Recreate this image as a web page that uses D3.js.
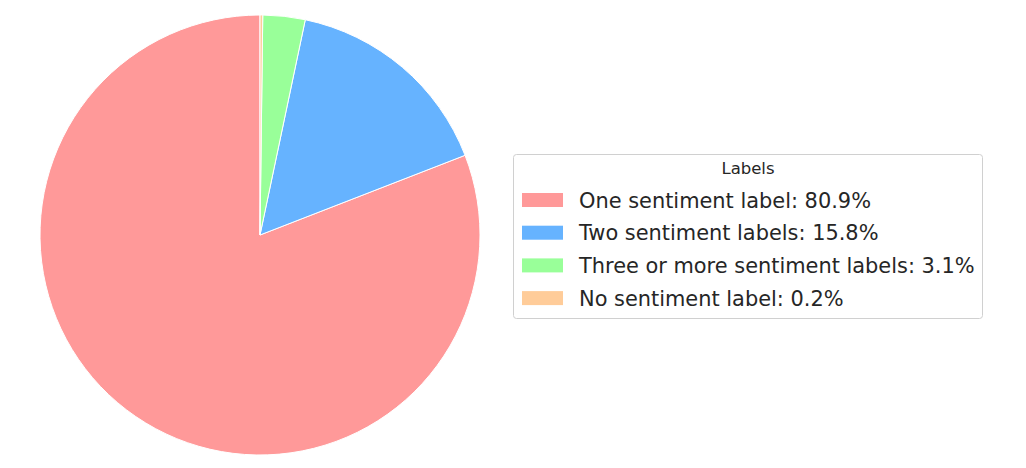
<!DOCTYPE html>
<html>
<head>
<meta charset="utf-8">
<script src="https://cdn.jsdelivr.net/npm/d3@7"></script>
<style>
  body { margin: 0; background: #fff; }
  svg { display: block; font-family: "DejaVu Sans", sans-serif; }
</style>
</head>
<body>
<svg id="chart" width="1026" height="468"></svg>
<script>
// data
var categories = ["One sentiment label", "Two sentiment labels", "Three or more sentiment labels", "No sentiment label"];
var shares = [80.9, 15.8, 3.1, 0.2];
var colors = ["#ff9999", "#66b3ff", "#99ff99", "#ffcc99"];
var legendTitle = "Labels";

var svg = d3.select("#chart");
var cx = 260, cy = 235, radius = 220;

var rows = categories.map((c, i) => ({ name: c, value: shares[i], color: colors[i] }));

// pie, counterclockwise from 12 o'clock like matplotlib startangle=90
var pie = d3.pie().sort(null).value(d => d.value)
    .startAngle(0).endAngle(-2 * Math.PI);
var arc = d3.arc().innerRadius(0).outerRadius(radius);

svg.append("g")
    .attr("transform", "translate(" + cx + "," + cy + ")")
  .selectAll("path")
  .data(pie(rows)).enter()
  .append("path")
    .attr("d", arc)
    .attr("fill", d => d.data.color)
    .attr("stroke", "#fff")
    .attr("stroke-width", 1);

// legend
var lx = 513, ly = 154, lw = 469, lh = 164;
var legend = svg.append("g").attr("transform", "translate(" + lx + "," + ly + ")");
legend.append("rect")
    .attr("x", 0.5).attr("y", 0.5)
    .attr("width", lw).attr("height", lh)
    .attr("rx", 3)
    .attr("fill", "#fff")
    .attr("stroke", "#d0d0d0");
legend.append("text")
    .attr("x", lw / 2 + 0.5)
    .attr("y", 20)
    .attr("text-anchor", "middle")
    .style("font-size", "16.5px")
    .attr("fill", "#262626")
    .text(legendTitle);

var rowY = d3.scaleLinear().domain([0, 1]).range([46, 78.7]);
var item = legend.selectAll("g.item")
    .data(rows).enter()
    .append("g")
    .attr("class", "item")
    .attr("transform", (d, i) => "translate(0," + rowY(i) + ")");
item.append("rect")
    .attr("x", 9)
    .attr("y", -7)
    .attr("width", 41)
    .attr("height", 14)
    .attr("fill", d => d.color);
item.append("text")
    .attr("x", 66)
    .attr("y", 0)
    .attr("dy", "0.36em")
    .style("font-size", "20.9px")
    .attr("fill", "#262626")
    .text(d => d.name + ": " + d.value.toFixed(1) + "%");
</script>
</body>
</html>
